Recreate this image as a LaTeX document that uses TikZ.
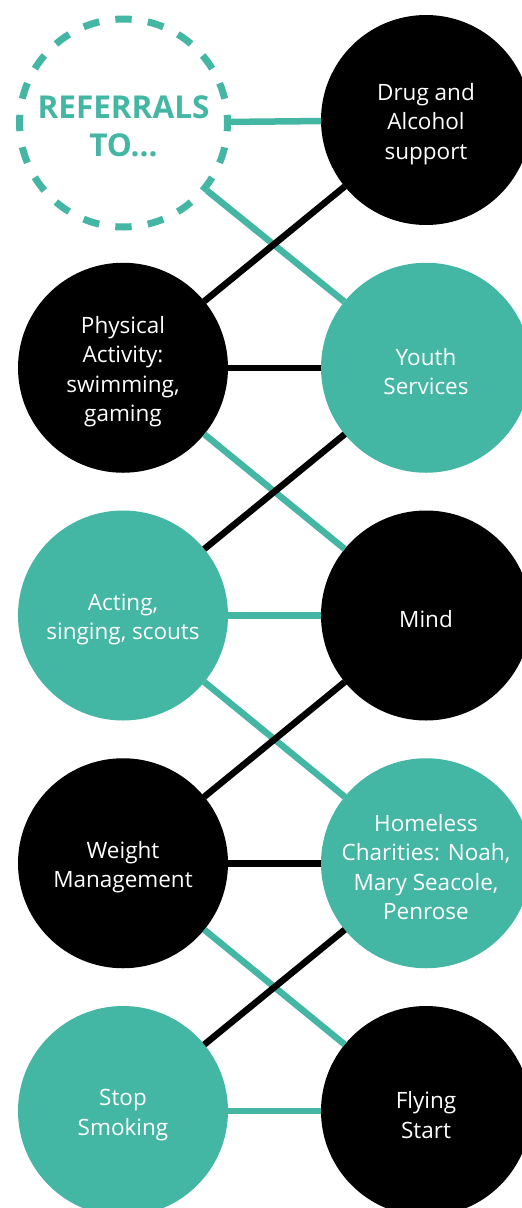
\documentclass[tikz,border=0pt]{standalone}
\usepackage{fontspec}
\setmainfont{Open Sans}
\definecolor{brandteal}{HTML}{44B6A4}
\begin{document}
\begin{tikzpicture}[x=1pt,y=-1pt,
  circ/.style={circle, minimum size=210pt, inner sep=0pt, outer sep=0pt},
  dark/.style={circ, fill=black},
  light/.style={circ, fill=brandteal},
  caption/.style={align=center, text=white, yshift=-4pt, inner sep=0pt,
    font=\fontsize{22.5}{29.5}\selectfont},
  tealline/.style={brandteal, line width=6.5pt},
  blackline/.style={black, line width=6.5pt}]
\useasboundingbox (0,0) rectangle (522,1208);
\clip (0,0) rectangle (522,1208);

% heading circle, dashed outline
\node[circle, minimum size=208pt, inner sep=0pt, draw=brandteal, line width=7pt,
  dash pattern=on 16.34pt off 16.33pt, dash phase=8.17pt,
  align=center, text=brandteal, font=\bfseries\fontsize{31.5}{38}\selectfont,
  label={[align=center, text=brandteal, yshift=-3pt, inner sep=0pt,
    font=\bfseries\fontsize{31.5}{38}\selectfont]center:{REFERRALS\\TO...}}]
  (ref) at (123.5,123) {};

% left column
\node[dark,  label={[caption]center:{Physical\\Activity:\\swimming,\\gaming}}]
  (phys) at (123,367.75) {};
\node[light, label={[caption]center:{Acting,\\singing, scouts}}]
  (acting) at (123,615.5) {};
\node[dark,  label={[caption]center:{Weight\\Management}}]
  (weight) at (123,863.25) {};
\node[light, label={[caption]center:{Stop\\Smoking}}]
  (smoke) at (123,1111) {};

% right column
\node[dark,  label={[caption]center:{Drug and\\Alcohol\\support}}]
  (drug) at (426,120) {};
\node[light, label={[caption]center:{Youth\\Services}}]
  (youth) at (426,367.75) {};
\node[dark,  label={[caption]center:{Mind}}]
  (mind) at (426,615.5) {};
\node[light, label={[caption]center:{Homeless\\Charities: Noah,\\Mary Seacole,\\Penrose}}]
  (home) at (426,863.25) {};
\node[dark,  label={[caption]center:{Flying\\Start}}]
  (flying) at (426,1111) {};

% teal connectors
\draw[tealline] (ref) -- (drug);
\draw[tealline] (ref) -- (youth);
\draw[tealline] (phys) -- (mind);
\draw[tealline] (acting) -- (mind);
\draw[tealline] (acting) -- (home);
\draw[tealline] (weight) -- (flying);
\draw[tealline] (smoke) -- (flying);

% black connectors
\draw[blackline] (drug) -- (phys);
\draw[blackline] (phys) -- (youth);
\draw[blackline] (youth) -- (acting);
\draw[blackline] (mind) -- (weight);
\draw[blackline] (weight) -- (home);
\draw[blackline] (home) -- (smoke);
\end{tikzpicture}
\end{document}
